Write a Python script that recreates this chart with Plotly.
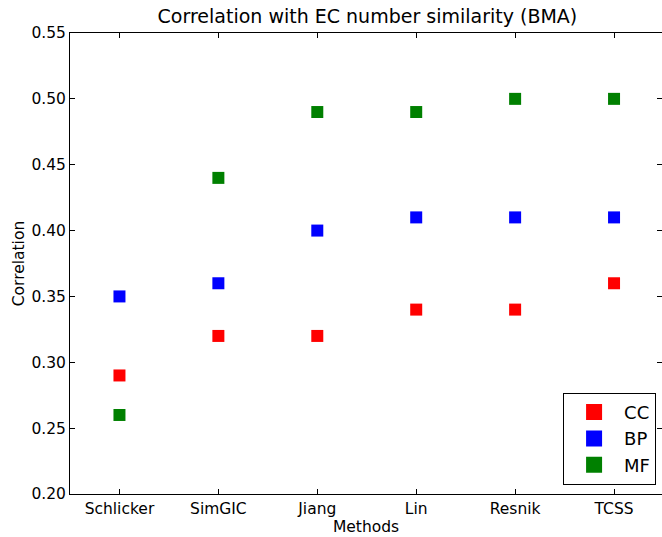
import plotly.graph_objects as go

methods = ["Schlicker", "SimGIC", "Jiang", "Lin", "Resnik", "TCSS"]
cc = [0.29, 0.32, 0.32, 0.34, 0.34, 0.36]
bp = [0.35, 0.36, 0.40, 0.41, 0.41, 0.41]
mf = [0.26, 0.44, 0.49, 0.49, 0.50, 0.50]
yticks = [0.20, 0.25, 0.30, 0.35, 0.40, 0.45, 0.50, 0.55]

series = [("CC", cc, "#ff0000"), ("BP", bp, "#0000ff"), ("MF", mf, "#008000")]

fig = go.Figure()
xs = list(range(len(methods)))
for name, vals, col in series:
    fig.add_trace(go.Scatter(
        x=xs, y=vals, mode="markers", name=name, showlegend=False, legendgroup=name,
        marker=dict(symbol="square", size=12, color=col, line=dict(width=0)),
    ))
# legend entries with larger symbols (matplotlib-style legend)
for name, vals, col in series:
    fig.add_trace(go.Scatter(
        x=[None], y=[None], mode="markers", name=name, legendgroup=name,
        marker=dict(symbol="square", size=16, color=col, line=dict(width=0)),
    ))

font = "DejaVu Sans, sans-serif"
fig.update_layout(
    width=662, height=537,
    margin=dict(l=70, r=0, t=33, b=43),
    paper_bgcolor="white", plot_bgcolor="white",
    font=dict(family=font, size=15.5, color="black"),
    title=dict(text="Correlation with EC number similarity (BMA)", x=0.555, xanchor="center",
               y=0.97, yanchor="middle", font=dict(size=19)),
    showlegend=True,
    legend=dict(x=0.99, y=0.02, xanchor="right", yanchor="bottom",
                bordercolor="black", borderwidth=1, bgcolor="white",
                font=dict(size=18), itemsizing="trace", traceorder="normal",
                itemwidth=50, tracegroupgap=0),
)
fig.update_xaxes(
    range=[-0.5, 5 + 48 / 99.0], tickvals=xs, ticktext=methods,
    showgrid=False, zeroline=False, showline=True, linecolor="black", linewidth=1,
    mirror="ticks", ticks="inside", ticklen=5, tickcolor="black",
    title=dict(text="Methods", standoff=2, font=dict(size=15.5)),
)
fig.update_yaxes(
    range=[0.20, 0.55], tickvals=yticks, ticktext=[f"{v:.2f}" for v in yticks],
    showgrid=False, zeroline=False, showline=True, linecolor="black", linewidth=1,
    mirror="ticks", ticks="inside", ticklen=5, tickcolor="black",
    title=dict(text="Correlation", standoff=2, font=dict(size=15.5)),
)
fig.write_html("out.html")
